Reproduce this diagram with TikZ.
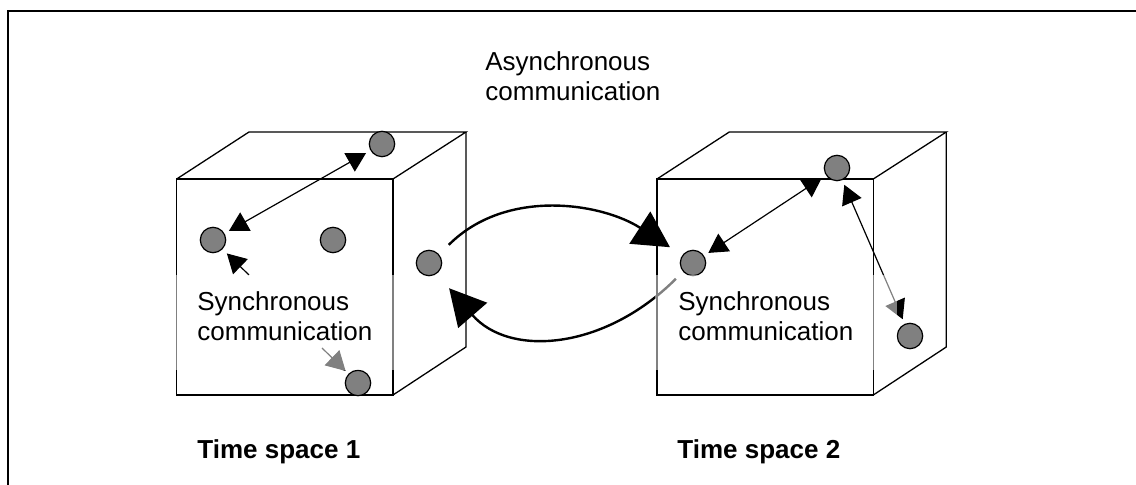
\documentclass[tikz,border=0pt]{standalone}
\usepackage{fontspec}
\setmainfont{Liberation Sans}
\usetikzlibrary{arrows.meta}
\usetikzlibrary{positioning}

\tikzset{
  cube/.style={line width=0.65pt, line join=miter},
  dot/.style={circle, draw=black, line width=0.6pt, fill=black!50, minimum size=12.7pt, inner sep=0pt},
  sync/.style={line width=0.6pt, -{Triangle[length=9.5pt,width=10.5pt]}},
  syncboth/.style={line width=0.6pt, {Triangle[length=9.5pt,width=10.5pt]}-{Triangle[length=9.5pt,width=10.5pt]}, shorten <=2.5pt, shorten >=2.5pt},
  async/.style={line width=1.2pt, -{Triangle[length=18pt,width=19pt]}},
  txt/.style={font=\fontsize{13}{15}\selectfont, inner sep=0pt, align=left},
  title/.style={font=\fontsize{13}{15}\selectfont\bfseries, inner sep=0pt, anchor=base west}
}

\begin{document}
\begin{tikzpicture}[x=0.5pt,y=0.5pt]
        \useasboundingbox (0,0) rectangle (1136,-485);
        \clip (0,0) rectangle (1136,-485);
        % frame
        \draw [line width=1pt] (8,-11) rectangle (1160,-510);
        % the two time space cubes
        \foreach \dx in {0,480.3} {
          \begin{scope}[shift={(\dx,0)}]
            \draw [cube] (176.7,-179) rectangle (393,-395);
            \draw [cube] (176.7,-179) -- (249,-132) -- (466,-132) -- (393,-179);
            \draw [cube] (466,-132) -- (466,-347) -- (393,-395);
          \end{scope}
        }
        % processes
        \node [dot] (s1a) at (213,-240) {};
        \node [dot] (s1b) at (333,-240) {};
        \node [dot] (s1top) at (382,-144) {};
        \node [dot] (s1side) at (429,-263) {};
        \node [dot] (s1low) at (358,-383) {};
        \node [dot] (s2a) at (693,-263) {};
        \node [dot] (s2top) at (837,-168) {};
        \node [dot] (s2side) at (910,-336) {};
        \coordinate (p1) at (249,-275);
        \coordinate (p2) at (322,-348);
        % synchronous messages
        \draw [syncboth] (s1a) -- (s1top);
        \draw [sync, shorten >=3pt] (p1) -- (s1a);
        \draw [sync, shorten >=2pt] (p2) -- (s1low);
        \draw [syncboth] (s2a) -- (s2top);
        \draw [syncboth] (s2top) -- (s2side);
        % asynchronous messages
        \draw [async, shorten <=6.8pt, shorten >=7.3pt] (s1side.40) to [out=45, in=147] (s2a.144);
        \draw [async, shorten <=5pt, shorten >=9.5pt] (s2a.221) to [out=225, in=-49, looseness=1.15] (s1side.-55);
        % faded text backgrounds
        \fill [white, opacity=0.5] (175,-275) rectangle (396,-370);
        \fill [white, opacity=0.5] (655,-275) rectangle (897,-370);
        % labels
        \node [txt, anchor=north west] (asynclbl) at (485,-51) {Asynchronous\\communication};
        \node [txt, anchor=north west] (synclbl1) at (197,-291) {Synchronous\\communication};
        \node [txt, anchor=north west] (synclbl2) at (678,-291) {Synchronous\\communication};
        \node [title] (space1) at (197,-459) {Time space 1};
        \node [title] (space2) at (677,-459) {Time space 2};
\end{tikzpicture}
\end{document}
